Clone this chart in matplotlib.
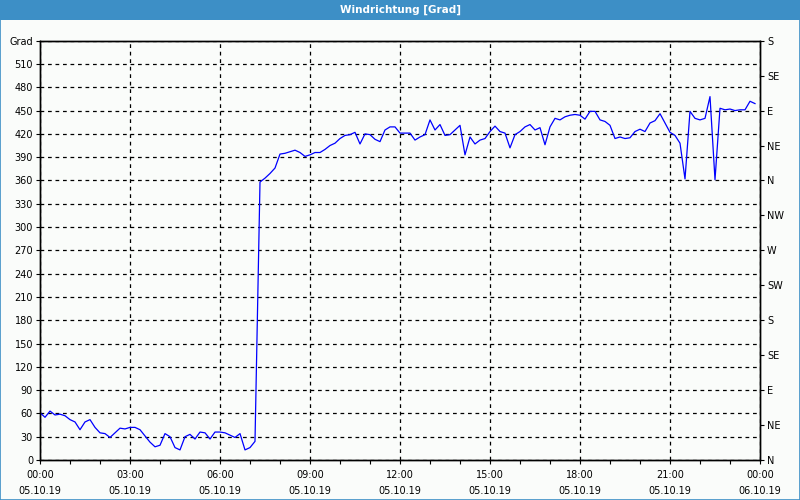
import numpy as np
import matplotlib
matplotlib.use("Agg")
import matplotlib.pyplot as plt
from matplotlib.patches import Rectangle
from matplotlib.ticker import MultipleLocator

title = "Windrichtung [Grad]"
y_unit = "Grad"

# wind direction, 10-minute samples starting 05.10.19 00:00
values = [
    61, 55, 63, 58, 59, 57, 52, 49, 39, 49,
    52, 42, 35, 34, 29, 35, 41, 40, 42, 42,
    39, 31, 23, 17, 19, 34, 30, 16, 13, 30,
    33, 27, 36, 35, 27, 36, 36, 35, 32, 29,
    34, 13, 16, 24, 358, 363, 369, 376, 394, 395,
    397, 399, 396, 391, 393, 396, 396, 400, 405, 408,
    414, 418, 419, 422, 407, 420, 419, 413, 410, 425,
    429, 429, 421, 421, 421, 412, 416, 419, 438, 425,
    432, 418, 419, 425, 431, 393, 416, 407, 412, 414,
    423, 430, 423, 421, 402, 419, 423, 429, 432, 425,
    428, 406, 429, 440, 438, 442, 444, 445, 444, 439,
    449, 449, 438, 436, 431, 414, 416, 414, 415, 423,
    426, 423, 434, 437, 446, 434, 422, 418, 408, 362,
    449, 440, 438, 440, 468, 361, 453, 451, 452, 450,
    451, 451, 462, 459,
]
sample_minutes = 10

x_tick_hours = [0, 3, 6, 9, 12, 15, 18, 21, 24]
x_tick_labels = ["00:00\n05.10.19", "03:00\n05.10.19", "06:00\n05.10.19",
                 "09:00\n05.10.19", "12:00\n05.10.19", "15:00\n05.10.19",
                 "18:00\n05.10.19", "21:00\n05.10.19", "00:00\n06.10.19"]
y_ticks = list(range(0, 541, 30))
y_tick_labels = [str(v) for v in range(0, 511, 30)] + [y_unit]
compass_ticks = list(range(0, 541, 45))
compass_labels = ["N", "NE", "E", "SE", "S", "SW", "W", "NW",
                  "N", "NE", "E", "SE", "S"]

hours = np.arange(len(values)) * sample_minutes / 60.0

plt.rcParams['font.family'] = ['DejaVu Sans']
bg = "#fafcfa"
blue_bar = "#3d8fc6"

fig = plt.figure(figsize=(8, 5), dpi=100, facecolor=bg)
# title bar
fig.patches.append(Rectangle((0, 0.96), 1, 0.04, transform=fig.transFigure,
                             facecolor=blue_bar, edgecolor="none", zorder=0))
fig.patches.append(Rectangle((0.0006, 0.001), 0.9988, 0.998, transform=fig.transFigure,
                             facecolor="none", edgecolor=blue_bar, linewidth=1.2, zorder=5))
fig.text(0.5, 0.98, title, color="white", fontsize=7.5, fontweight="bold",
         ha="center", va="center")

ax = fig.add_axes([0.05, 0.08, 0.90, 0.8386])
ax.set_facecolor(bg)
ax.plot(hours, values, color="#0000ff", linewidth=0.9, zorder=3)

ax.set_xlim(0, 24)
ax.set_ylim(0, 540)
ax.set_xticks(x_tick_hours)
ax.set_xticklabels(x_tick_labels, fontsize=7, linespacing=1.75)
ax.xaxis.set_minor_locator(MultipleLocator(1))
ax.set_yticks(y_ticks)
ax.set_yticklabels(y_tick_labels, fontsize=7)
ax.tick_params(axis="x", which="major", length=3, width=0.8, pad=4, colors="black")
ax.tick_params(axis="x", which="minor", length=3, width=0.8)
ax.tick_params(axis="y", length=3, width=0.8, pad=2)

ax.grid(True, which="major", color="black", linestyle=(0, (3, 3)), linewidth=0.9)
for s in ax.spines.values():
    s.set_color("black")
    s.set_linewidth(1.0)

ax2 = ax.twinx()
ax2.set_ylim(0, 540)
ax2.set_yticks(compass_ticks)
ax2.set_yticklabels(compass_labels, fontsize=7)
ax2.tick_params(axis="y", length=3, width=0.8, pad=2)
for s in ax2.spines.values():
    s.set_color("black")
    s.set_linewidth(1.0)

fig.savefig("out.png", dpi=100, facecolor=bg)
